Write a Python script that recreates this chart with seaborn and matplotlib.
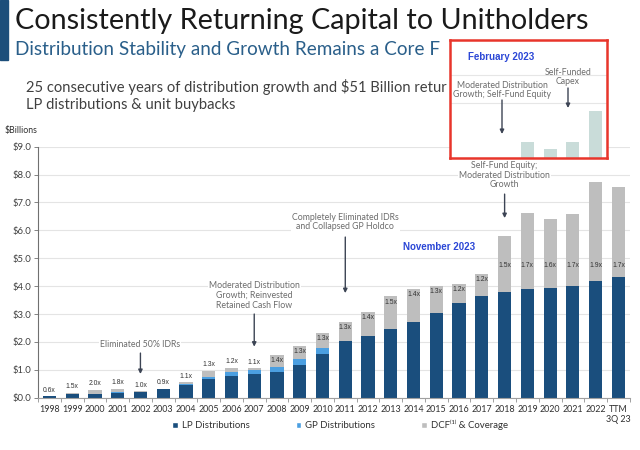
import numpy as np
import pandas as pd
import matplotlib
matplotlib.use("Agg")
import matplotlib.pyplot as plt
import seaborn as sns
from matplotlib.patches import Patch, Rectangle
from matplotlib.ticker import FixedLocator

# ---------------- data ----------------
years = ["1998", "1999", "2000", "2001", "2002", "2003", "2004", "2005", "2006",
         "2007", "2008", "2009", "2010", "2011", "2012", "2013", "2014", "2015",
         "2016", "2017", "2018", "2019", "2020", "2021", "2022", "TTM\n3Q 23"]
lp_dist = [0.05, 0.13, 0.14, 0.17, 0.22, 0.31, 0.45, 0.66, 0.79, 0.84, 0.91, 1.16,
           1.57, 2.02, 2.21, 2.46, 2.70, 3.02, 3.38, 3.64, 3.78, 3.88, 3.92, 3.99,
           4.18, 4.32]
gp_dist = [0.00, 0.00, 0.01, 0.02, 0.00, 0.00, 0.04, 0.09, 0.12, 0.15, 0.18, 0.21,
           0.20, 0.00, 0.00, 0.00, 0.00, 0.00, 0.00, 0.00, 0.00, 0.00, 0.00, 0.00,
           0.00, 0.00]
dcf_total = [0.03, 0.17, 0.29, 0.32, 0.23, 0.28, 0.55, 0.96, 1.08, 1.06, 1.53, 1.85,
             2.33, 2.71, 3.07, 3.63, 3.89, 4.00, 4.07, 4.43, 5.79, 6.61, 6.39, 6.59,
             7.74, 7.54]
coverage = ["0.6x", "1.5x", "2.0x", "1.8x", "1.0x", "0.9x", "1.1x", "1.3x", "1.2x",
            "1.1x", "1.4x", "1.3x", "1.3x", "1.3x", "1.4x", "1.5x", "1.4x", "1.3x",
            "1.2x", "1.2x", "1.5x", "1.7x", "1.6x", "1.7x", "1.9x", "1.7x"]
yticks = [0, 1, 2, 3, 4, 5, 6, 7, 8, 9]

feb_years = ["2019", "2020", "2021", "2022"]
feb_dcf = [6.60, 6.35, 6.60, 7.70]

# ---------------- style ----------------
LP_C = "#1a4e7d"
GP_C = "#4b9fe1"
DCF_C = "#bebebe"
ANN_C = "#6c6c6c"
ARR_C = "#3c4454"

sns.set_theme(style="white")
plt.rcParams['font.family'] = ['Lato', 'DejaVu Sans']

W, H = 640, 450
fig = plt.figure(figsize=(6.4, 4.5), dpi=100)
fig.patch.set_facecolor("white")


def fx(px):
    return px / W


def fy(py):
    return 1 - py / H


# ---------------- main chart ----------------
ax = fig.add_axes([fx(38), fy(397.7), 591.8 / W, 251 / H])

lp = np.array(lp_dist)
dist = lp + np.array(gp_dist)
top = np.maximum(np.array(dcf_total), dist)
df = pd.DataFrame({"year": years, "LP": lp, "LPGP": dist, "Top": top})

common = dict(x="year", order=years, width=0.58, errorbar=None, saturation=1,
              linewidth=0, ax=ax)
sns.barplot(data=df, y="Top", color=DCF_C, **common)
sns.barplot(data=df, y="LPGP", color=GP_C, **common)
sns.barplot(data=df, y="LP", color=LP_C, **common)

ax.set_xlim(-0.5, len(years) - 0.5)
ax.set_ylim(0, 9)
ax.set_xlabel("")
ax.set_ylabel("")
ax.yaxis.grid(True, color="#e4e4e4", lw=0.8)
ax.set_axisbelow(True)
for s in ["top", "right"]:
    ax.spines[s].set_visible(False)
ax.spines["left"].set_color("#707070")
ax.spines["left"].set_linewidth(0.8)
ax.spines["bottom"].set_color("#a0a0a0")
ax.spines["bottom"].set_linewidth(0.8)

ax.set_yticks(yticks)
ax.set_yticklabels([f"${v:.1f}" for v in yticks])
ax.tick_params(axis="y", left=True, length=3, width=0.6, color="#707070",
               labelsize=6.8, labelcolor="#404040", pad=2)
ax.set_xticks(range(len(years)))
ax.set_xticklabels(years)
ax.tick_params(axis="x", which="major", bottom=False, length=0, labelsize=6.4,
               labelcolor="#303030", pad=5)
ax.xaxis.set_minor_locator(FixedLocator(np.arange(-0.5, len(years), 1.0)))
ax.tick_params(axis="x", which="minor", bottom=True, length=3, width=0.6,
               color="#909090")

for i, (t, lab) in enumerate(zip(top, coverage)):
    y = t + 0.22 if t < 1.2 else min(t - 0.2, 4.75)
    ax.text(i, y, lab, ha="center", va="center", fontsize=4.9, color="#333333",
            family=["Liberation Sans", "DejaVu Sans"])

bb = dict(facecolor="white", edgecolor="none", pad=0.6)
arrow = dict(arrowstyle="-|>", color=ARR_C, lw=1.0, mutation_scale=6,
             shrinkA=0, shrinkB=0)
notes = [
    (4, 1.89, 1.60, 0.85, "Eliminated 50% IDRs"),
    (9, 3.66, 3.00, 1.83, "Moderated Distribution\nGrowth; Reinvested\nRetained Cash Flow"),
    (13, 6.30, 5.76, 3.75, "Completely Eliminated IDRs\nand Collapsed GP Holdco"),
    (20, 7.98, 7.30, 6.44, "Self-Fund Equity;\nModerated Distribution\nGrowth"),
]
for xi, ty, a0, a1, txt in notes:
    ax.annotate("", xy=(xi, a1), xytext=(xi, a0), arrowprops=arrow)
    ax.text(xi, ty, txt, ha="center", va="center", fontsize=6.3, color=ANN_C,
            linespacing=1.1, bbox=bb)

ax.text(17.12, 5.41, "November 2023", ha="center", va="center", fontsize=7,
        fontweight="bold", color="#2b47d6", family=["Liberation Sans", "DejaVu Sans"])

handles = [Patch(facecolor=LP_C), Patch(facecolor=GP_C), Patch(facecolor=DCF_C)]
labels = ["LP Distributions", "GP Distributions", "DCF\u207d\u00b9\u207e & Coverage"]
fig.legend(handles, labels, loc="center", bbox_to_anchor=(fx(340), fy(425)),
           ncol=3, frameon=False, fontsize=6.9, handlelength=0.6, handleheight=0.6,
           handletextpad=0.4, columnspacing=4.8, labelcolor="#303030")

# ---------------- header ----------------
fig.add_artist(Rectangle((0, fy(60)), fx(8), 60 / H, transform=fig.transFigure,
                         color="#1c4e7a", zorder=2))
fig.text(fx(15), fy(28.5), "Consistently Returning Capital to Unitholders",
         fontsize=20.7, color="#1a1a1a", va="baseline")
fig.text(fx(15), fy(55), "Distribution Stability and Growth Remains a Core F",
         fontsize=13.6, color="#2a5f8a", va="baseline")
fig.text(fx(26), fy(92),
         "25 consecutive years of distribution growth and $51 Billion retur",
         fontsize=10.6, color="#404040", va="baseline")
fig.text(fx(26), fy(109), "LP distributions & unit buybacks",
         fontsize=10.6, color="#404040", va="baseline")
fig.text(fx(5), fy(131), "$Billions", fontsize=6.3, color="#303030", va="center")

# ---------------- February 2023 inset ----------------
iax = fig.add_axes([fx(450), fy(158), 157 / W, 118 / H], zorder=5)
iax.set_facecolor("white")
sns.barplot(x=feb_years, y=feb_dcf, order=years, color="#c9dcd9", width=0.58,
            errorbar=None, saturation=1, linewidth=0, ax=iax)
iax.set_xlim(17.6, 24.5)
iax.set_ylim(6.03, 10.26)
iax.set_yticks([8, 9])
iax.yaxis.grid(True, color="#e6e6e6", lw=0.8)
iax.set_axisbelow(True)
iax.set_xticks([])
iax.tick_params(left=False, labelleft=False, bottom=False, labelbottom=False)
iax.set_xlabel("")
iax.set_ylabel("")
for s in iax.spines.values():
    s.set_visible(True)
    s.set_color("#e8352b")
    s.set_linewidth(1.8)

iax.text(fx(468), fy(57), "February 2023", transform=fig.transFigure, ha="left",
         va="center", fontsize=7, fontweight="bold", color="#2b47d6",
         family=["Liberation Sans", "DejaVu Sans"])
iax.text(fx(568), fy(77), "Self-Funded\nCapex", transform=fig.transFigure,
         ha="center", va="center", fontsize=6.3, color=ANN_C, linespacing=1.1)
iax.text(fx(502), fy(90), "Moderated Distribution\nGrowth; Self-Fund Equity",
         transform=fig.transFigure, ha="center", va="center", fontsize=6.3,
         color=ANN_C, linespacing=1.1)
iax.annotate("", xy=(fx(502), fy(134)), xytext=(fx(502), fy(100)),
             xycoords="figure fraction", textcoords="figure fraction",
             arrowprops=arrow)
iax.annotate("", xy=(fx(568), fy(108)), xytext=(fx(568), fy(88)),
             xycoords="figure fraction", textcoords="figure fraction",
             arrowprops=arrow)

fig.savefig("out.png", dpi=100, facecolor="white")
